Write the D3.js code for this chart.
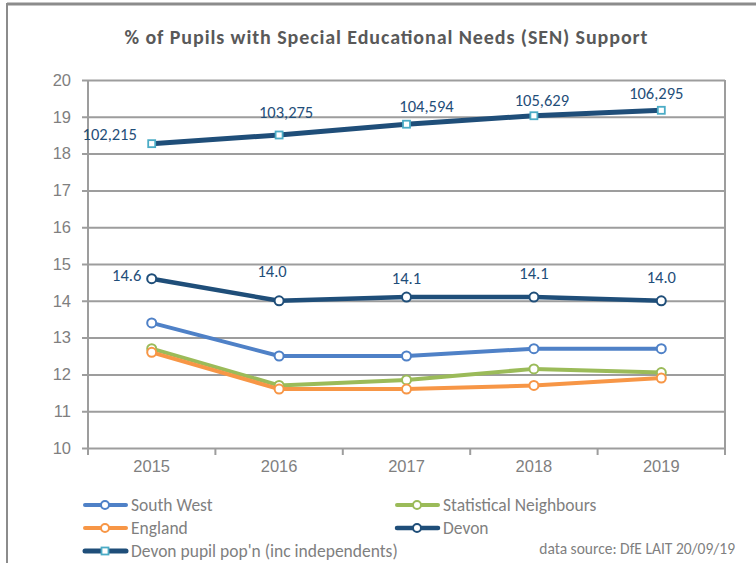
<!DOCTYPE html>
<html><head><meta charset="utf-8">
<script src="https://cdn.jsdelivr.net/npm/d3@7"></script>
<style>
html,body{margin:0;padding:0;background:#fff;}
svg{display:block;font-family:Carlito,Lato,"Open Sans",sans-serif;}
</style></head><body>
<svg id="c" width="756" height="563"></svg>
<script>
const years = ["2015","2016","2017","2018","2019"];
const southWest = [13.4, 12.5, 12.5, 12.7, 12.7];
const statNeighbours = [12.7, 11.7, 11.85, 12.15, 12.05];
const england = [12.6, 11.6, 11.6, 11.7, 11.9];
const devon = [14.6, 14.0, 14.1, 14.1, 14.0];
const devonPop = [102215, 103275, 104594, 105629, 106295];
const yTicks = [10,11,12,13,14,15,16,17,18,19,20];

const svg = d3.select("#c");
const m = {l:88, r:725, t:80, b:448};
const x = d3.scaleBand().domain(years).range([m.l, m.r]);
const xc = d => x(d) + x.bandwidth()/2;
const y = d3.scaleLinear().domain([10,20]).range([m.b, m.t]);
const y2 = d3.scaleLinear().domain([65000,110000]).range([m.b, m.t]);
const axisCol = "#9d9d9d", txtCol = "#7f7f7f";

// outer frame fragments
svg.append("line").attr("x1",7).attr("x2",756).attr("y1",4).attr("y2",4).attr("stroke","#8c8c8c").attr("stroke-width",3);
svg.append("line").attr("x1",7).attr("x2",7).attr("y1",3).attr("y2",563).attr("stroke","#8c8c8c").attr("stroke-width",2);

// title
svg.append("text").attr("x",386).attr("y",44).attr("text-anchor","middle")
  .attr("fill","#595959").attr("font-size",20).attr("font-weight","bold")
  .attr("textLength",523).attr("lengthAdjust","spacing")
  .text("% of Pupils with Special Educational Needs (SEN) Support");

// gridlines via y axis
const yAxis = d3.axisLeft(y).tickValues(yTicks).tickSize(-(m.r-m.l)).tickSizeOuter(0).tickPadding(17);
const gy = svg.append("g").attr("transform",`translate(${m.l},0)`).call(yAxis);
gy.select(".domain").remove();
gy.selectAll(".tick line").attr("stroke",axisCol).attr("stroke-width",2).attr("x1",-6);
gy.selectAll(".tick text").attr("fill",txtCol).attr("font-size",16.5).attr("font-family","inherit");

// left axis & right border lines
svg.append("line").attr("x1",m.l).attr("x2",m.l).attr("y1",m.t).attr("y2",m.b+7).attr("stroke",axisCol).attr("stroke-width",2);
svg.append("line").attr("x1",m.r).attr("x2",m.r).attr("y1",m.t).attr("y2",m.b+7).attr("stroke",axisCol).attr("stroke-width",2);

// x axis
const xAxis = d3.axisBottom(x).tickSize(0).tickPadding(12);
const gx = svg.append("g").attr("transform",`translate(0,${m.b})`).call(xAxis);
gx.select(".domain").remove();
gx.selectAll(".tick text").attr("fill",txtCol).attr("font-size",16.5).attr("font-family","inherit");
const bounds = years.map(d=>x(d)).concat([m.r]);
svg.selectAll(".xt").data(bounds).join("line").attr("class","xt")
  .attr("x1",d=>d).attr("x2",d=>d).attr("y1",m.b).attr("y2",m.b+7).attr("stroke",axisCol).attr("stroke-width",2);

const series = [
  {name:"South West", vals:southWest, col:"#4f81c7", w:4, sc:y},
  {name:"Statistical Neighbours", vals:statNeighbours, col:"#9bbb59", w:4, sc:y},
  {name:"England", vals:england, col:"#f79646", w:4, sc:y},
  {name:"Devon", vals:devon, col:"#1f4e79", w:4.5, sc:y},
  {name:"Devon pupil pop'n (inc independents)", vals:devonPop, col:"#1f4e79", w:5, sc:y2, square:true, mcol:"#4bacc6"}
];

series.forEach(s=>{
  const line = d3.line().x((d,i)=>xc(years[i])).y(d=>s.sc(d));
  svg.append("path").datum(s.vals).attr("d",line).attr("fill","none")
    .attr("stroke",s.col).attr("stroke-width",s.w).attr("stroke-linejoin","round").attr("stroke-linecap","round");
  if (s.square) {
    svg.selectAll(null).data(s.vals).join("rect")
      .attr("x",(d,i)=>xc(years[i])-3.5).attr("y",d=>s.sc(d)-3.5).attr("width",7).attr("height",7)
      .attr("fill","#fff").attr("stroke",s.mcol).attr("stroke-width",1.8);
  } else {
    svg.selectAll(null).data(s.vals).join("circle")
      .attr("cx",(d,i)=>xc(years[i])).attr("cy",d=>s.sc(d)).attr("r",4.5)
      .attr("fill","#fff").attr("stroke",s.col).attr("stroke-width",2);
  }
});

// data labels (offsets from each point, in px)
const devonLabelOff = [[-25,2],[-7,-24],[0,-13],[0,-18],[0,-18]];
svg.selectAll(".dl").data(devon).join("text").attr("class","dl")
  .attr("x",(d,i)=>xc(years[i])+devonLabelOff[i][0]).attr("y",(d,i)=>y(d)+devonLabelOff[i][1])
  .attr("text-anchor","middle").attr("fill","#1f4e79").attr("font-size",16.5)
  .text(d=>d3.format(".1f")(d));
const popLabelOff = [[-42,-4],[7,-17],[20,-12],[8,-10],[-5,-11]];
svg.selectAll(".pl").data(devonPop).join("text").attr("class","pl")
  .attr("x",(d,i)=>xc(years[i])+popLabelOff[i][0]).attr("y",(d,i)=>y2(d)+popLabelOff[i][1])
  .attr("text-anchor","middle").attr("fill","#1f4e79").attr("font-size",16.5)
  .text(d=>d3.format(",")(d));

// legend
const legPos = [[83,505],[395,505],[83,528],[395,528],[83,551]];
series.forEach((s,i)=>{
  const [lx,ly] = legPos[i];
  const g = svg.append("g").attr("transform",`translate(${lx},${ly})`);
  g.append("line").attr("x1",2).attr("x2",43).attr("y1",0).attr("y2",0)
    .attr("stroke",s.col).attr("stroke-width",s.w).attr("stroke-linecap","round");
  if (s.square) g.append("rect").attr("x",18.5).attr("y",-3.5).attr("width",7).attr("height",7)
    .attr("fill","#fff").attr("stroke",s.mcol).attr("stroke-width",1.8);
  else g.append("circle").attr("cx",22).attr("cy",0).attr("r",4).attr("fill","#fff").attr("stroke",s.col).attr("stroke-width",2);
  g.append("text").attr("x",48).attr("y",6).attr("fill",txtCol).attr("font-size",17.5).text(s.name);
});
svg.append("text").attr("x",735).attr("y",554).attr("text-anchor","end").attr("fill",txtCol)
  .attr("font-size",15.5).text("data source: DfE LAIT 20/09/19");
</script>
</body></html>
